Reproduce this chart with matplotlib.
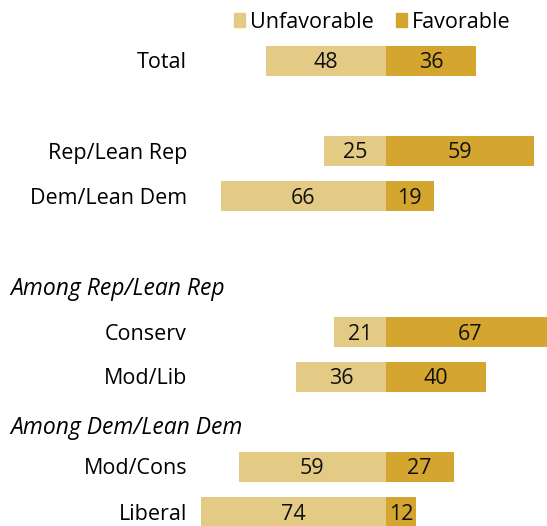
import numpy as np
import matplotlib.pyplot as plt
import matplotlib.transforms as mtransforms

plt.rcParams['font.family'] = ['Open Sans', 'DejaVu Sans']

groups = ['Total', 'Rep/Lean Rep', 'Dem/Lean Dem', 'Conserv', 'Mod/Lib', 'Mod/Cons', 'Liberal']
unfavorable = [48, 25, 66, 21, 36, 59, 74]
favorable = [36, 59, 19, 67, 40, 27, 12]
headers = ['Among Rep/Lean Rep', 'Among Dem/Lean Dem']

# vertical layout in pixel rows (top = 0)
row_y = [61, 151, 196, 332, 377, 467, 512]
header_y = [287, 426]

c_unfav = '#E3CA85'
c_fav = '#D4A52F'
fs = 15.5
dy = 2  # nudge text down, Open Sans sits a little high

W, H = 547, 526
fig = plt.figure(figsize=(W / 100, H / 100), dpi=100)
ax = fig.add_axes([0, 0, 1, 1])
center_px = 386
ppu = 2.5
ax.set_xlim(-center_px / ppu, (W - center_px) / ppu)
ax.set_ylim(H, 0)
ax.axis('off')

bh = 30
ax.barh(row_y, [-u for u in unfavorable], height=bh, color=c_unfav, edgecolor='none')
ax.barh(row_y, favorable, height=bh, color=c_fav, edgecolor='none')

for y, u, f in zip(row_y, unfavorable, favorable):
    ax.text(-u / 2, y + dy, str(u), ha='center', va='center', fontsize=fs, color='#111111')
    ax.text(f / 2, y + dy, str(f), ha='center', va='center', fontsize=fs, color='#111111')

trans = mtransforms.blended_transform_factory(ax.transAxes, ax.transData)
for y, g in zip(row_y, groups):
    ax.text(187 / W, y + dy, g, ha='right', va='center', fontsize=fs, transform=trans)
for y, h in zip(header_y, headers):
    ax.text(10 / W, y + dy, h, ha='left', va='center', fontsize=16.5, style='italic', transform=trans)

# legend
ax.add_patch(plt.Rectangle((234 / W, 13), 11 / W, 14, transform=trans, color=c_unfav))
ax.text(250 / W, 20 + dy, 'Unfavorable', ha='left', va='center', fontsize=fs, transform=trans)
ax.add_patch(plt.Rectangle((396 / W, 13), 11 / W, 14, transform=trans, color=c_fav))
ax.text(412 / W, 20 + dy, 'Favorable', ha='left', va='center', fontsize=fs, transform=trans)

fig.savefig('out.png', dpi=100)
